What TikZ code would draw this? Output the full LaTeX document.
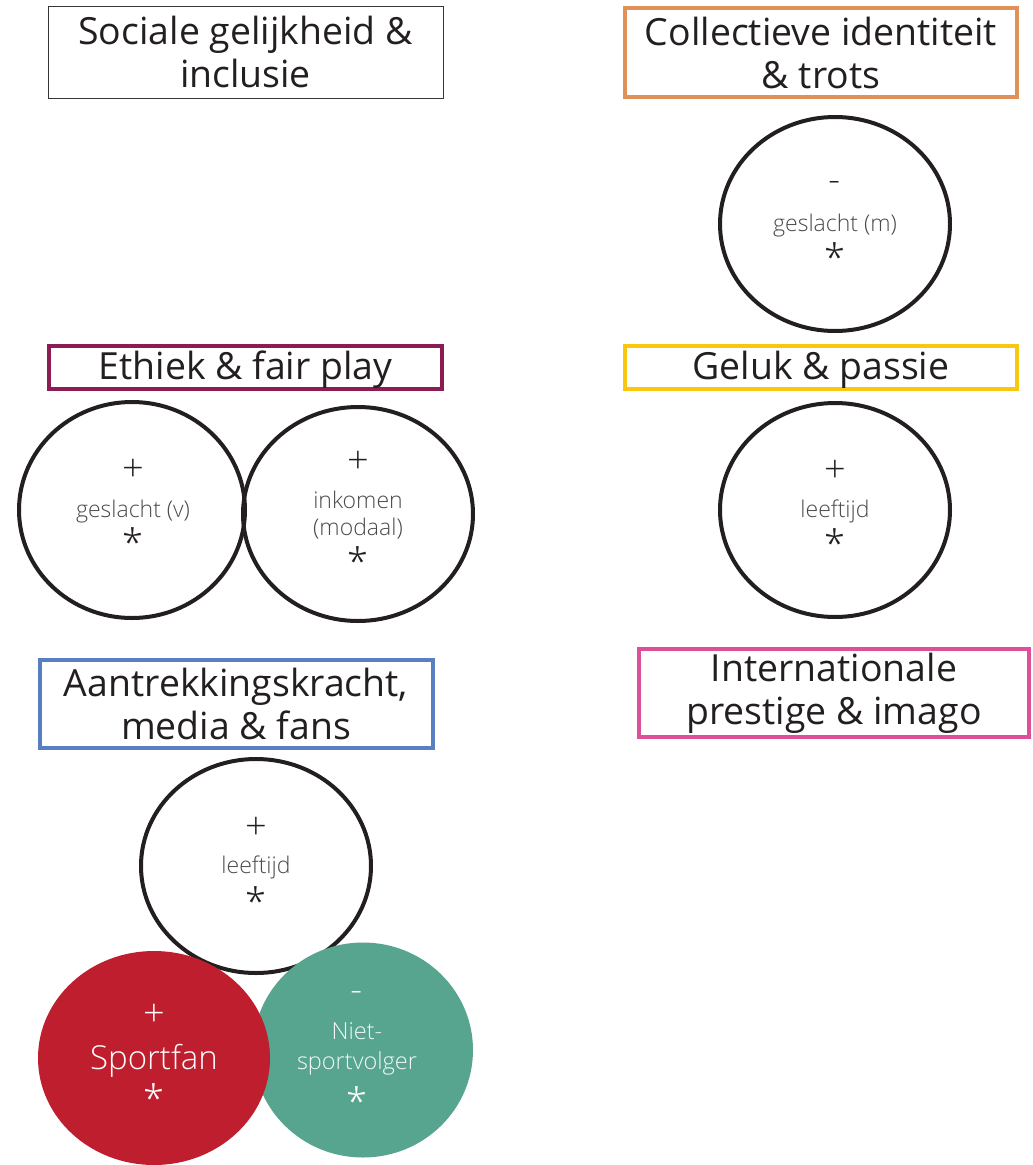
\documentclass[tikz,border=0pt]{standalone}
\usepackage{fontspec}
\setmainfont{Open Sans}
\newfontfamily\lightf{Open Sans Light}
\usetikzlibrary{shapes.geometric}
\definecolor{ink}{HTML}{231F20}
\definecolor{labgray}{HTML}{4A4A4A}
\definecolor{orangeb}{HTML}{DF9157}
\definecolor{yellowb}{HTML}{F9C80E}
\definecolor{plumb}{HTML}{8C1D52}
\definecolor{blueb}{HTML}{5A7FC1}
\definecolor{pinkb}{HTML}{DE4F99}
\definecolor{redc}{HTML}{BE1E2D}
\definecolor{greenc}{HTML}{58A58F}
\begin{document}
\begin{tikzpicture}[x=1pt,y=-1pt,
  titlebox/.style={draw, line width=4pt, inner sep=0pt, align=center,
    text=ink, font=\fontsize{37.4}{43}\selectfont},
  titletext/.style={inner sep=0pt, align=center, text=ink, font=\fontsize{37.4}{43}\selectfont},
  ringnode/.style={ellipse, draw=ink, line width=4pt, inner sep=0pt,
    minimum width=230pt, minimum height=214pt},
  blobnode/.style={ellipse, inner sep=0pt, draw=none},
  symb/.style={inner sep=0pt, text=ink, font=\lightf\fontsize{38}{40}\selectfont},
  lab/.style={inner sep=0pt, text=labgray, font=\lightf\fontsize{23}{27}\selectfont, align=center},
  wsymb/.style={inner sep=0pt, text=white, font=\lightf\fontsize{38}{40}\selectfont},
  wlab/.style={inner sep=0pt, text=white, align=center}
]
\useasboundingbox (0,0) rectangle (1033,1165);
\fill[white] (0,0) rectangle (1033,1165);

% title boxes
\node[titlebox, draw=ink!90, line width=1pt, minimum width=395pt, minimum height=92pt] (b1) at (245.5,52) {Sociale gelijkheid \&\\inclusie};
\node[titlebox, draw=orangeb, minimum width=392pt, minimum height=89pt] (b2) at (821,52.5) {Collectieve identiteit\\\& trots};
\node[titlebox, draw=yellowb, minimum width=392pt, minimum height=43pt] (b3) at (821,367) {};
\node[titletext] (b3t) at (821,370) {Geluk \& passie};
\node[titlebox, draw=plumb, minimum width=393pt, minimum height=43pt] (b4) at (245.5,367) {};
\node[titletext] (b4t) at (245.5,370) {Ethiek \& fair play};
\node[titlebox, draw=blueb, minimum width=393pt, minimum height=88pt] (b5) at (236,704) {Aantrekkingskracht,\\media \& fans};
\node[titlebox, draw=pinkb, minimum width=390pt, minimum height=88pt] (b6) at (834,693) {Internationale\\prestige \& imago};

% outlined circles
\node[ringnode] (c1) at (835,224) {};
\node[ringnode, minimum width=226pt, minimum height=216pt] (c2) at (132,510) {};
\node[ringnode] (c3) at (358,514) {};
\node[ringnode] (c4) at (835,510) {};
\node[ringnode] (c5) at (256,866) {};

% filled circles
\node[blobnode, fill=greenc, minimum width=220pt, minimum height=215pt] (g1) at (363,1050) {};
\node[blobnode, fill=redc, minimum width=232pt, minimum height=214pt] (r1) at (154,1058) {};

% texts c1
\node[symb] (c1s) at (835,187) {-};
\node[lab] (c1l) at (835,226) {geslacht (m)};
\node[symb] (c1a) at (835,257) {*};
% c2
\node[symb] (c2s) at (133,470) {+};
\node[lab] (c2l) at (133,512) {geslacht (v)};
\node[symb] (c2a) at (133,542) {*};
% c3
\node[symb] (c3s) at (358,462) {+};
\node[lab] (c3l) at (358,515) {inkomen\\(modaal)};
\node[symb] (c3a) at (358,561) {*};
% c4
\node[symb] (c4s) at (835,471) {+};
\node[lab] (c4l) at (835,511) {leeftijd};
\node[symb] (c4a) at (835,543) {*};
% c5
\node[symb] (c5s) at (256,828) {+};
\node[lab] (c5l) at (256,867) {leeftijd};
\node[symb] (c5a) at (256,901) {*};
% red
\node[wsymb] (r1s) at (154,1015) {+};
\node[wlab, font=\lightf\fontsize{33}{36}\selectfont] (r1l) at (154,1061) {Sportfan};
\node[wsymb] (r1a) at (154,1098) {*};
% green
\node[wsymb] (g1s) at (357,997) {-};
\node[wlab, text=white!92!greenc, font=\lightf\fontsize{23.5}{30}\selectfont] (g1l) at (357,1049) {Niet-\\sportvolger};
\node[wsymb] (g1a) at (357,1101) {*};
\end{tikzpicture}
\end{document}
